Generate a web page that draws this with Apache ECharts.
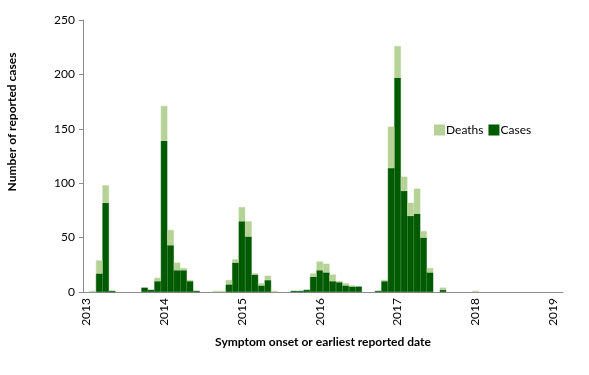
<!doctype html>
<html>
    <head>
        <meta charset="utf-8">
        <title>Reported cases by month</title>
        <style>
            html, body { margin: 0; padding: 0; background: #fff; }
            #main { width: 589px; height: 375px; }
        </style>
    </head>
    <body>
        <div id="main"></div>
        <script src="https://cdn.jsdelivr.net/npm/echarts@6/dist/echarts.min.js"></script>
        <script>
            // monthly values, Jan 2013 .. Feb 2019
            var firstYear = 2013;
            var monthCount = 74;
            var cases = [
                0, 0, 17, 82, 1, 0, 0, 0, 0, 4, 2, 10,
                139, 43, 20, 20, 10, 1, 0, 0, 0, 0, 7, 27,
                65, 51, 16, 6, 11, 0, 0, 0, 1, 1, 2, 14,
                20, 18, 10, 9, 6, 5, 5, 0, 0, 1, 10, 114,
                197, 93, 70, 72, 50, 18, 0, 2, 0, 0, 0, 0,
                0, 0, 0, 0, 0, 0, 0, 0, 0, 0, 0, 0,
                0, 0
            ];
            var deaths = [
                0, 1, 12, 16, 0, 0, 0, 0, 0, 0, 0, 3,
                32, 14, 7, 2, 1, 0, 0, 0, 1, 1, 4, 3,
                13, 14, 1, 2, 4, 1, 0, 0, 0, 0, 0, 3,
                8, 8, 6, 1, 2, 1, 0, 0, 0, 0, 1, 38,
                29, 13, 12, 23, 6, 4, 0, 2, 0, 0, 0, 0,
                1, 0, 0, 0, 0, 0, 0, 0, 0, 0, 0, 0,
                0, 0
            ];

            var months = [];
            for (var i = 0; i < monthCount; i++) {
                var y = firstYear + Math.floor(i / 12);
                var m = (i % 12) + 1;
                months.push(y + '-' + (m < 10 ? '0' + m : m));
            }

            // empty months are left out so the bar outlines do not draw on the axis
            function skipZero(arr) {
                return arr.map(function (v) { return v === 0 ? '-' : v; });
            }

            var font = 'Lato, "Open Sans", sans-serif';
            var caseColor = '#005a00';
            var deathColor = '#b7d297';
            var chart = echarts.init(document.getElementById('main'));

            chart.setOption({
                animation: false,
                textStyle: { fontFamily: font },
                grid: { left: 83, right: 26, top: 20, bottom: 83 },
                legend: {
                    left: 429,
                    top: 119,
                    itemWidth: 9,
                    itemHeight: 9,
                    itemGap: 5,
                    icon: 'rect',
                    textStyle: { fontFamily: font, fontSize: 12, color: '#000', padding: [0, 0, 0, -3] },
                    data: ['Deaths', 'Cases']
                },
                graphic: [
                    {
                        type: 'text',
                        x: 12,
                        y: 122,
                        rotation: Math.PI / 2,
                        style: {
                            text: 'Number of reported cases',
                            fontFamily: font,
                            fontSize: 12,
                            fontWeight: 'bold',
                            fill: '#000',
                            align: 'center',
                            verticalAlign: 'middle'
                        }
                    },
                    {
                        type: 'text',
                        x: 323,
                        y: 342,
                        style: {
                            text: 'Symptom onset or earliest reported date',
                            fontFamily: font,
                            fontSize: 12,
                            fontWeight: 'bold',
                            fill: '#000',
                            align: 'center',
                            verticalAlign: 'middle'
                        }
                    }
                ],
                xAxis: {
                    type: 'category',
                    data: months,
                    boundaryGap: true,
                    axisLine: { lineStyle: { color: '#8c8c8c', width: 1 } },
                    axisTick: { interval: 0, length: 5, lineStyle: { color: '#8c8c8c' } },
                    axisLabel: {
                        interval: 0,
                        rotate: 90,
                        margin: 6,
                        fontSize: 12,
                        color: '#000',
                        formatter: function (v) {
                            return v.slice(5) === '01' ? v.slice(0, 4) : '';
                        }
                    },
                    splitLine: { show: false }
                },
                yAxis: {
                    type: 'value',
                    min: 0,
                    max: 250,
                    interval: 50,
                    axisLine: { show: true, lineStyle: { color: '#8c8c8c', width: 1 } },
                    axisTick: { show: true, length: 4, lineStyle: { color: '#8c8c8c' } },
                    axisLabel: { fontSize: 12, color: '#000', margin: 8 },
                    splitLine: { show: false }
                },
                series: [
                    {
                        name: 'Cases',
                        type: 'bar',
                        stack: 'total',
                        data: skipZero(cases),
                        barCategoryGap: '0%',
                        itemStyle: { color: caseColor, borderColor: caseColor, borderWidth: 0.5 }
                    },
                    {
                        name: 'Deaths',
                        type: 'bar',
                        stack: 'total',
                        data: skipZero(deaths),
                        barCategoryGap: '0%',
                        itemStyle: { color: deathColor, borderColor: deathColor, borderWidth: 0.5 }
                    }
                ]
            });

            window.addEventListener('resize', function () {
                chart.resize();
            });
        </script>
    </body>
</html>
